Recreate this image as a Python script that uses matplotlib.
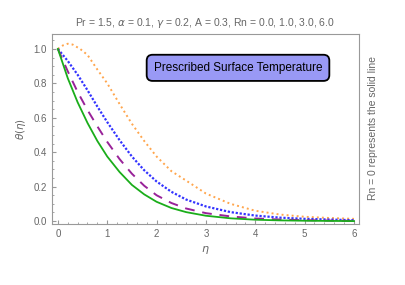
import matplotlib
matplotlib.use("Agg")
import matplotlib.pyplot as plt

plt.rcParams['font.family'] = ['Liberation Sans', 'DejaVu Sans']
plt.rcParams['mathtext.fontset'] = 'dejavusans'

# values
eta = [0, 0.2, 0.4, 0.6, 0.8, 1.0, 1.25, 1.5, 1.75, 2.0, 2.3, 2.6, 3.0, 3.5, 4.0, 4.5, 5.0, 6.0]
theta_rn0 = [1.0, 0.83, 0.69, 0.57, 0.465, 0.375, 0.285, 0.21, 0.155, 0.112, 0.076, 0.052, 0.031,
             0.016, 0.008, 0.004, 0.002, 0.0]
theta_rn1 = [1.0, 0.87, 0.75, 0.645, 0.55, 0.46, 0.36, 0.275, 0.205, 0.15, 0.105, 0.073, 0.046,
             0.027, 0.015, 0.009, 0.005, 0.001]
theta_rn3 = [1.0, 0.93, 0.85, 0.76, 0.665, 0.575, 0.47, 0.375, 0.295, 0.23, 0.17, 0.125, 0.085,
             0.052, 0.032, 0.02, 0.013, 0.005]

eta_rn6 = [0, 0.1, 0.2, 0.3, 0.45, 0.6, 0.8, 1.0, 1.25, 1.5, 1.75, 2.0, 2.3, 2.6, 3.0, 3.5,
           4.0, 4.5, 5.0, 5.5, 6.0]
theta_rn6 = [1.0, 1.02, 1.03, 1.025, 1.0, 0.965, 0.88, 0.8, 0.68, 0.565, 0.465, 0.375, 0.29,
             0.235, 0.16, 0.1, 0.06, 0.038, 0.025, 0.018, 0.013]

xticks = [0, 1, 2, 3, 4, 5, 6]
yticks = [0.0, 0.2, 0.4, 0.6, 0.8, 1.0]

fig = plt.figure(figsize=(4.06, 2.85), dpi=100)
ax = fig.add_axes([0.128, 0.214, 0.756, 0.667])

ax.plot(eta_rn6, theta_rn6, color="#ffa64d", lw=1.4, linestyle=(0, (1, 1.6)))
ax.plot(eta, theta_rn3, color="#3333ff", lw=1.6, linestyle=(0, (1, 0.8)))
ax.plot(eta, theta_rn1, color="#992299", lw=1.4, linestyle=(0, (5, 4)))
ax.plot(eta, theta_rn0, color="#1aad1a", lw=1.3)

ax.set_xlim(-0.12, 6.1)
ax.set_ylim(-0.017, 1.087)
ax.set_xticks(xticks)
ax.set_yticks(yticks)
ax.set_yticklabels([f"{v:.1f}" for v in yticks])
ax.minorticks_on()
ax.tick_params(which="both", direction="in", colors="#999999", labelcolor="#666666",
               labelsize=7)
ax.tick_params(which="major", length=3)
ax.tick_params(which="minor", length=1.5)
for s in ax.spines.values():
    s.set_color("#999999")

ax.set_xlabel(r"$\eta$", color="#666666", fontsize=8)
ax.set_ylabel(r"$\theta(\eta)$", color="#666666", fontsize=7.5)
ax.set_title(r"Pr = 1.5, $\alpha$ = 0.1, $\gamma$ = 0.2, A = 0.3, Rn = 0.0, 1.0, 3.0, 6.0",
             color="#666666", fontsize=7.5, pad=6)

ax.text(3.65, 0.89, "Prescribed Surface Temperature", fontsize=8.5, color="black",
        ha="center", va="center",
        bbox=dict(boxstyle="round,pad=0.6,rounding_size=0.5", fc="#9999f5", ec="black", lw=1.3))

fig.text(373 / 406, 1 - 128 / 285, "Rn = 0 represents the solid line", rotation=90,
         color="#666666", fontsize=7.5, ha="center", va="center")

fig.savefig("out.png", dpi=100)
